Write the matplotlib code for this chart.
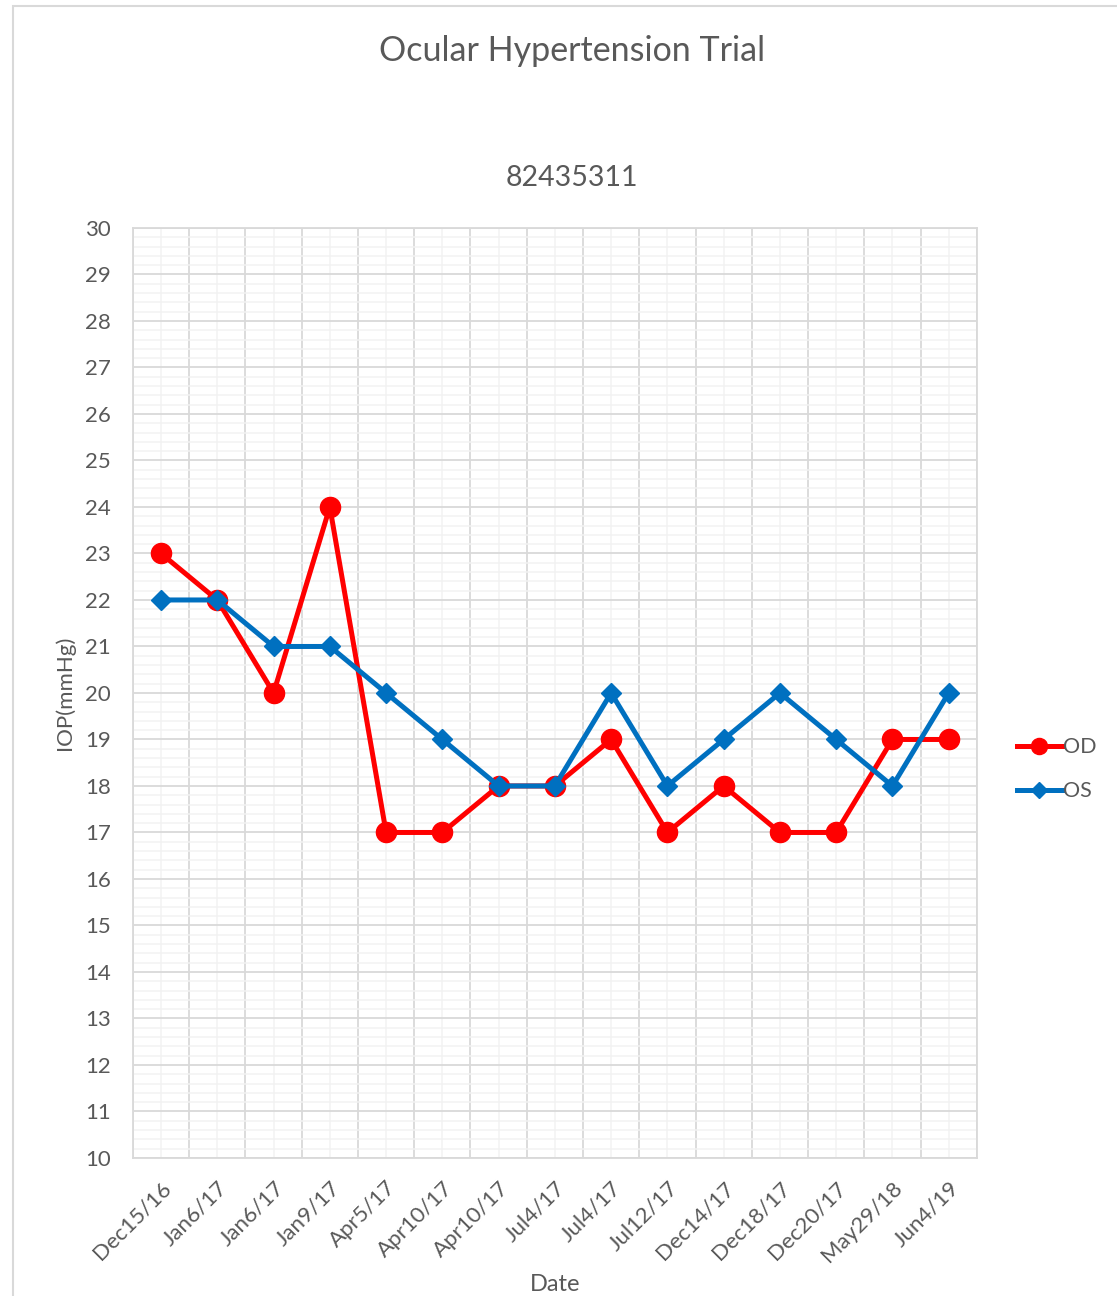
import numpy as np
import matplotlib
matplotlib.use("Agg")
import matplotlib.pyplot as plt
from matplotlib.patches import Rectangle

dates = ["Dec15/16", "Jan6/17", "Jan6/17", "Jan9/17", "Apr5/17", "Apr10/17", "Apr10/17",
         "Jul4/17", "Jul4/17", "Jul12/17", "Dec14/17", "Dec18/17", "Dec20/17", "May29/18", "Jun4/19"]
od = [23, 22, 20, 24, 17, 17, 18, 18, 19, 17, 18, 17, 17, 19, 19]
os_ = [22, 22, 21, 21, 20, 19, 18, 18, 20, 18, 19, 20, 19, 18, 20]

plt.rcParams['font.family'] = ['Lato', 'DejaVu Sans']
txt = "#595959"

fig = plt.figure(figsize=(11.17, 12.96), dpi=100)
ax = fig.add_axes([0.119, 0.1065, 0.7555, 0.7176])

x = np.arange(len(dates))
ax.plot(x, od, color="#FF0000", lw=3.6, marker="o", ms=14.5, label="OD", zorder=3)
ax.plot(x, os_, color="#0070C0", lw=3.6, marker="D", ms=10.5, label="OS", zorder=4)

ax.set_xlim(-0.5, len(dates) - 0.5)
ax.set_ylim(10, 30)
ax.set_yticks(np.arange(10, 31, 1))
ax.set_yticks(np.arange(10, 30.01, 0.2), minor=True)
ax.set_xticks(np.arange(-0.5, len(dates), 1))
ax.set_xticks(x, minor=True)
ax.set_xticklabels([])
ax.set_xticklabels(dates, minor=True, rotation=45, ha="right", rotation_mode="anchor")

ax.grid(which="major", color="#D9D9D9", lw=1.3)
ax.grid(which="minor", color="#F2F2F2", lw=1.1)
ax.set_axisbelow(True)
for s in ax.spines.values():
    s.set_color("#D9D9D9")
    s.set_linewidth(1.3)
ax.tick_params(which="both", length=0, colors=txt, labelsize=16)
ax.tick_params(axis="x", which="minor", pad=14)
ax.tick_params(axis="y", pad=16)

ax.set_ylabel("IOP(mmHg)", color=txt, fontsize=16, labelpad=7)
fig.text(0.497, 0.001, "Date", color=txt, fontsize=17, ha="center", va="bottom")

fig.text(0.512, 0.961, "Ocular Hypertension Trial", color=txt, fontsize=24.5, ha="center", va="center")
fig.text(0.512, 0.863, "82435311", color=txt, fontsize=20.5, ha="center", va="center")

leg = ax.legend(loc="center left", bbox_to_anchor=(1.037, 0.418), frameon=False, fontsize=15.5,
                labelcolor=txt, handlelength=2.1, handletextpad=0.05, labelspacing=1.1,
                borderaxespad=0, markerscale=0.8)

fig.patches.append(Rectangle((13 / 1117, -0.01), 1.1, 1.0 - 6 / 1296 + 0.01,
                             transform=fig.transFigure, fill=False, edgecolor="#D9D9D9", lw=1.5))

fig.savefig("out.png", dpi=100)
